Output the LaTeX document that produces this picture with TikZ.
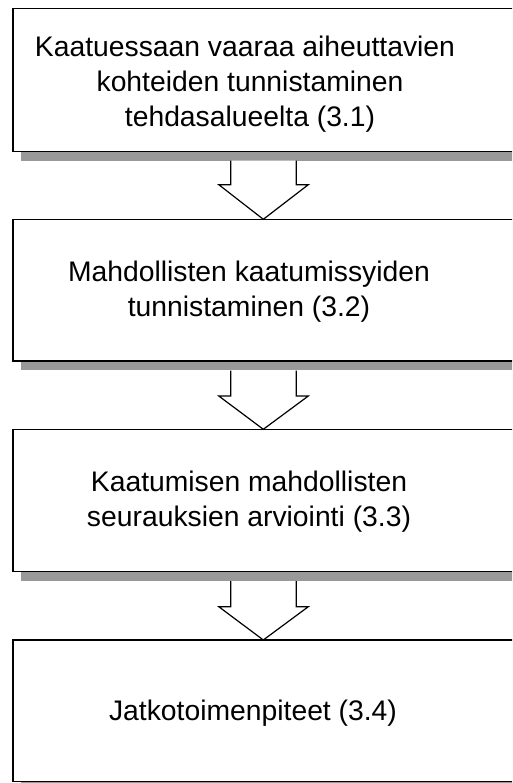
\documentclass[tikz,border=0pt]{standalone}
\usepackage{fontspec}
\setmainfont{Liberation Sans}
\usetikzlibrary{calc}
\definecolor{shadowgray}{HTML}{999999}
\begin{document}
\begin{tikzpicture}[x=1pt,y=-1pt,
  stagebox/.style={draw=black, line width=1.2pt, fill=white, rectangle,
    minimum width=515pt, anchor=north west, inner sep=0pt, outer sep=0pt},
  boxshadow/.style={fill=shadowgray, draw=none},
  stagetext/.style={font=\fontsize{28.3}{35}\selectfont, align=center, text=black, inner sep=0pt},
  blockarrow/.style={draw=black, line width=1.2pt, fill=white, line join=miter}]
\useasboundingbox (0,0) rectangle (512,783);
\begin{scope}
\clip (0,0) rectangle (512,783);
\node[stagebox, minimum height=143.4pt] (b1) at (13,8.3) {};
\node[stagebox, minimum height=141.7pt] (b2) at (13,219.3) {};
\node[stagebox, minimum height=142.4pt] (b3) at (13,429.3) {};
\node[stagebox, minimum height=141.7pt] (b4) at (13,640) {};
\foreach \b in {b1,b2,b3,b4}{
  \fill[boxshadow] ($(\b.south west)+(8,0.6)$) rectangle ($(\b.south east)+(8,9)$);
}
\node[stagetext] (t1) at (250,84.5) {Kaatuessaan vaaraa aiheuttavien\hspace*{10pt}\\kohteiden tunnistaminen\\tehdasalueelta (3.1)};
\node[stagetext] (t2) at (249,291.5) {Mahdollisten kaatumissyiden\\tunnistaminen (3.2)};
\node[stagetext] (t3) at (249,501.5) {Kaatumisen mahdollisten\\seurauksien arviointi (3.3)};
\node[stagetext] (t4) at (253,713) {Jatkotoimenpiteet (3.4)};
\draw[blockarrow] ($(b1.south west)+(217.8,9)$) -- ++(0,24) -- ++(-12,0)
  -- ($(b2.north west)+(250.3,0)$) -- ($(b1.south west)+(295.3,33)$) -- ++(-12,0) -- ++(0,-24);
\draw[blockarrow] ($(b2.south west)+(217.8,9.5)$) -- ++(0,25.5) -- ++(-12,0)
  -- ($(b3.north west)+(250.3,0)$) -- ($(b2.south west)+(295.3,35)$) -- ++(-12,0) -- ++(0,-25.5);
\draw[blockarrow] ($(b3.south west)+(217.8,9.5)$) -- ++(0,25.5) -- ++(-12,0)
  -- ($(b4.north west)+(250.3,0)$) -- ($(b3.south west)+(295.3,35)$) -- ++(-12,0) -- ++(0,-25.5);
\end{scope}
\end{tikzpicture}
\end{document}
